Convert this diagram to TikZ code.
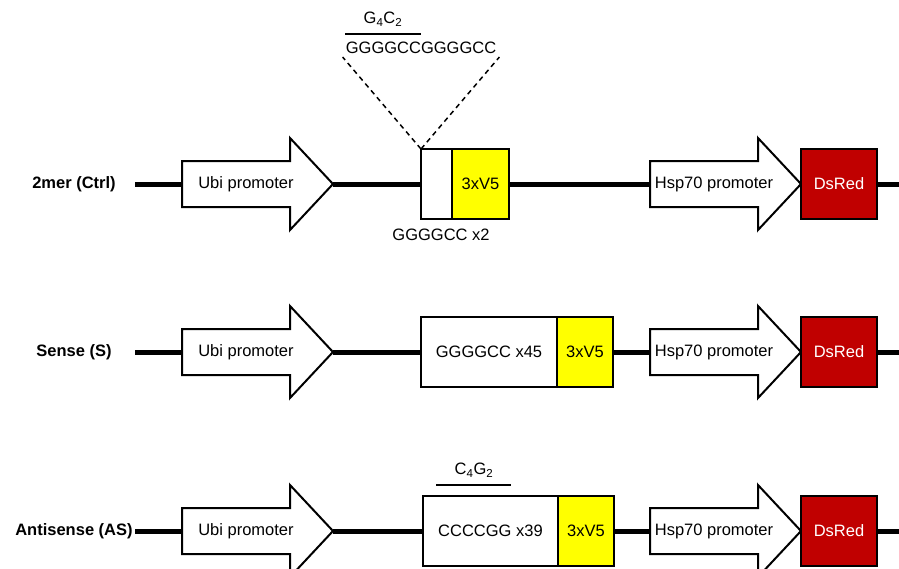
\documentclass[tikz,border=0pt]{standalone}
\usepackage{fontspec}
\setmainfont{Liberation Sans}
\usetikzlibrary{positioning}
\definecolor{dsred}{RGB}{192,0,0}
\definecolor{tagyellow}{RGB}{255,255,0}
\newcommand\lblfont{\fontsize{16.5}{19}\selectfont}
\tikzset{
  backbone/.style={line width=5pt},
  outl/.style={line width=2pt},
  part/.style={draw, outl, inner sep=0pt, outer sep=0pt, minimum height=70pt, anchor=west},
  rowlab/.style={font=\lblfont\bfseries},
  pics/promoter/.style={code={
    \draw[outl, fill=white] (0,-23) -- (108,-23) -- (108,-46) -- (151,0)
      -- (108,46) -- (108,23) -- (0,23) -- cycle;
    \node at (64,0) {#1};
    \coordinate (-tail) at (0,0);
    \coordinate (-tip) at (151,0);
  }}
}

\begin{document}
\begin{tikzpicture}[x=1pt, y=-1pt, font=\lblfont]
    \clip (0,0) rectangle (899,568);

    % the three constructs
    \foreach \r/\y/\lab in {1/184/2mer (Ctrl), 2/352/Sense (S), 3/531/Antisense (AS)} {
        \node[rowlab] (lab\r) at (74,\y) {\lab};
        \coordinate (start\r) at (135,\y);
        \coordinate (end\r) at (899,\y);
        \pic (ubi\r) at (182,\y) {promoter=Ubi promoter};
        \pic (hsp\r) at (650,\y) {promoter=Hsp70 promoter};
        \node[part, fill=dsred, text=white, minimum width=76pt] (ds\r) at (801,\y) {DsRed};
    }

    \node[part, minimum width=31pt] (rep1) at (421,184) {};
    \node[part, fill=tagyellow, minimum width=57pt] (tag1) at (rep1.east) {3xV5};
    \node[part, minimum width=136pt] (rep2) at (421,352) {GGGGCC x45};
    \node[part, fill=tagyellow, minimum width=56pt] (tag2) at (rep2.east) {3xV5};
    \node[part, minimum width=135pt] (rep3) at (423,531) {CCCCGG x39};
    \node[part, fill=tagyellow, minimum width=56pt] (tag3) at (rep3.east) {3xV5};

    \foreach \r in {1,2,3} {
        \draw[backbone] (start\r) -- (ubi\r-tail);
        \draw[backbone] (ubi\r-tip) -- (rep\r.west);
        \draw[backbone] (tag\r.east) -- (hsp\r-tail);
        \draw[backbone] (ds\r.east) -- (end\r);
    }

    % repeat details
    \node at (441,235) {GGGGCC x2};
    \node[inner sep=3pt] (seq) at (421,48) {GGGGCCGGGGCC};
    \node (g4c2) at (383,19) {G\textsubscript{4}C\textsubscript{2}};
    \draw[outl] (345,34) -- (421,34);
    \draw[line width=1.5pt, dash pattern=on 5pt off 4pt] (rep1.north west) -- (seq.south west);
    \draw[line width=1.5pt, dash pattern=on 5pt off 4pt] (rep1.north west) -- (seq.south east);

    \node (c4g2) at (474,470) {C\textsubscript{4}G\textsubscript{2}};
    \draw[outl] (436,485) -- (511,485);
\end{tikzpicture}
\end{document}
